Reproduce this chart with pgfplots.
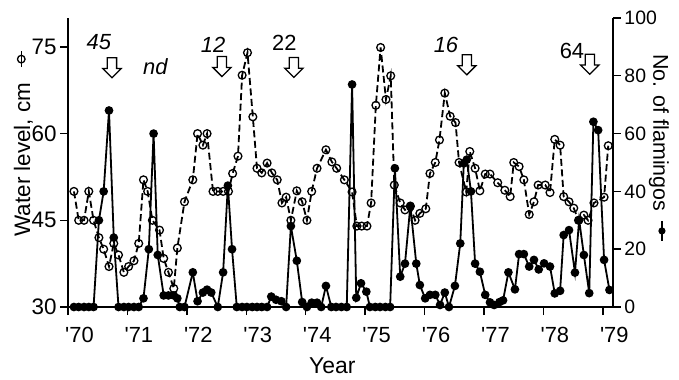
\documentclass[border=0pt]{standalone}
\usepackage{pgfplots}
\pgfplotsset{compat=1.18}
\usepackage{pgfplotstable}
\usepackage{fontspec}
\setmainfont{Liberation Sans}
\usetikzlibrary{shapes.arrows}

\pgfplotstableread{
year water
1970.10 50
1970.18 45
1970.27 45
1970.35 50
1970.43 45
1970.52 42
1970.60 40
1970.69 37
1970.77 41
1970.85 39
1970.94 36
1971.02 37
1971.11 38
1971.19 41
1971.27 52
1971.34 50
1971.42 45
1971.54 43.3
1971.61 38.4
1971.69 36
1971.78 33.2
1971.84 40.2
1971.96 48.2
1972.10 52
1972.18 60
1972.27 58
1972.34 60
1972.44 50
1972.52 50
1972.61 50
1972.70 50
1972.77 53.1
1972.86 56.1
1972.93 70.1
1973.02 74
1973.11 62.9
1973.18 54
1973.26 53.2
1973.35 54.9
1973.43 53.2
1973.52 52
1973.60 48
1973.67 49
1973.75 45
1973.85 50.1
1973.94 48.2
1974.02 45
1974.10 50
1974.19 54
1974.34 57.2
1974.44 55.1
1974.52 54
1974.65 52
1974.78 49.9
1974.86 44
1974.94 44
1975.03 44
1975.10 48
1975.18 64.9
1975.26 74.9
1975.35 65.9
1975.43 70
1975.49 51.1
1975.59 48
1975.67 46.8
1975.76 47.4
1975.84 45
1975.92 46.2
1976.02 47
1976.09 53.1
1976.18 55
1976.25 58.9
1976.34 67
1976.43 63
1976.52 61.9
1976.58 55
1976.70 49.9
1976.76 56.9
1976.85 54
1976.93 50.1
1977.02 53
1977.10 53
1977.23 51.5
1977.35 50.2
1977.44 49.1
1977.50 55
1977.59 54.3
1977.67 52
1977.76 46
1977.84 48.2
1977.91 51.1
1978.03 51.1
1978.11 49.8
1978.19 59
1978.28 58
1978.34 49.1
1978.43 48.2
1978.51 47.1
1978.59 45
1978.68 45.9
1978.75 45
1978.85 48
1979.02 49
1979.09 57.9
}\water

\pgfplotstableread{
year birds
1970.10 0
1970.18 0
1970.27 0
1970.35 0
1970.43 0
1970.52 30
1970.60 40
1970.69 68
1970.77 24
1970.85 0
1970.94 0
1971.02 0
1971.11 0
1971.19 0
1971.27 3
1971.36 20
1971.44 60
1971.51 18
1971.61 4
1971.69 4
1971.78 4
1971.84 3
1971.88 0
1971.96 0
1972.10 12
1972.18 2
1972.27 5
1972.34 6
1972.41 5
1972.52 0
1972.61 12
1972.69 42
1972.76 20
1972.84 0
1972.93 0
1973.01 0
1973.10 0
1973.18 0
1973.26 0
1973.35 0
1973.42 3.6
1973.50 2.5
1973.59 2
1973.67 0
1973.75 28
1973.85 16
1973.94 1.7
1974.02 0
1974.10 1.5
1974.19 1.5
1974.26 0
1974.34 7.3
1974.43 0
1974.51 0
1974.60 0
1974.69 0
1974.78 77
1974.85 3.2
1974.93 8.2
1975.02 5.3
1975.08 0
1975.17 0
1975.25 0
1975.34 0
1975.42 0
1975.50 48
1975.59 10.5
1975.67 15
1975.76 35
1975.86 15
1975.92 7.6
1976.01 3
1976.09 4.2
1976.18 4.2
1976.26 0.7
1976.34 5
1976.41 0
1976.51 7.3
1976.60 22
1976.66 49.7
1976.71 51
1976.78 40
1976.85 15
1976.93 12.2
1977.02 4.2
1977.10 1.6
1977.17 0.7
1977.26 1.7
1977.32 2.3
1977.41 12
1977.52 6.1
1977.59 18.3
1977.67 18.3
1977.76 14
1977.84 16.3
1977.92 13
1978.01 15.1
1978.11 14
1978.19 4.7
1978.28 5.6
1978.34 24.9
1978.43 26.6
1978.53 11.9
1978.60 30.1
1978.68 18
1978.77 4.8
1978.84 64.1
1978.92 61.2
1979.02 16.3
1979.11 5.9
}\birds

\pgfplotsset{
  common/.style={
    scale only axis, width=545bp, height=289bp,
    xmin=1970, xmax=1979.17,
    tick align=outside,
    major tick length=8bp, minor tick length=5bp,
    every tick/.style={black, line width=1.4bp},
    axis line style={line width=1.7bp},
    clip=false,
    /pgf/number format/assume math mode=true,
  }
}

\begin{document}
\begin{tikzpicture}
\useasboundingbox (-68bp,-73bp) rectangle (611bp,307bp);
\begin{axis}[common,
  ymin=30, ymax=80,
  axis x line*=bottom, axis y line*=left,
  xtick={1970,...,1979},
  xticklabels={{\textquotesingle70},{\textquotesingle71},{\textquotesingle72},{\textquotesingle73},{\textquotesingle74},{\textquotesingle75},{\textquotesingle76},{\textquotesingle77},{\textquotesingle78},{\textquotesingle79}},
  minor x tick num=3,
  ytick={30,45,60,75},
  xticklabel style={font=\fontsize{22}{26}\selectfont, anchor=north west, inner sep=0pt, xshift=-3bp, yshift=-12bp},
  yticklabel style={font=\fontsize{22.5}{26}\selectfont},
  xlabel={Year},
  xlabel style={font=\fontsize{23}{27}\selectfont, at={(axis description cs:0.485,-0.1765)}, anchor=north, inner sep=0pt},
  ylabel={Water level, cm\hspace{15bp}\tikz[baseline=-0.75ex]{\draw[line width=1.4bp] (0,0)--(16bp,0); \draw[line width=1.3bp] (8bp,0) circle (3.8bp);}},
  ylabel style={font=\fontsize{22.5}{26}\selectfont, at={(axis description cs:-0.0817,0.566)}, anchor=center},
]
\addplot[black, line width=1.8bp, dash pattern=on 7bp off 3.5bp, mark=o, mark size=3.9bp, mark options={solid, line width=1.3bp}] table[x=year, y=water] {\water};
\end{axis}
\begin{axis}[common,
  ymin=0, ymax=100,
  axis x line=none, axis y line*=right,
  ytick={0,20,...,100},
  yticklabel style={font=\fontsize{19.5}{23}\selectfont},
  ylabel={No. of flamingos\hspace{9bp}\tikz[baseline=-0.75ex]{\draw[line width=1.4bp] (0,0)--(20bp,0); \fill (10bp,0) circle (3.6bp);}},
  ylabel style={font=\fontsize{21.5}{25}\selectfont, at={(axis description cs:1.0844,0.55)}, anchor=center, rotate=180},
]
\addplot[black, line width=1.8bp, mark=*, mark size=3.4bp] table[x=year, y=birds] {\birds};
\tikzset{darr/.style={single arrow, draw=black, fill=white, line width=1.3bp, shape border rotate=270, minimum height=20bp, inner sep=4bp, single arrow head extend=4.5bp}}
\node[darr] at (axis cs:1970.74,83.6) {};
\node[darr] at (axis cs:1972.59,84) {};
\node[darr] at (axis cs:1973.80,83.7) {};
\node[darr] at (axis cs:1976.71,84.6) {};
\node[darr] at (axis cs:1978.78,84.8) {};
\node[font=\fontsize{22}{26}\selectfont\itshape] at (axis cs:1970.52,91.5) {45};
\node[font=\fontsize{22}{26}\selectfont\itshape] at (axis cs:1971.47,83) {nd};
\node[font=\fontsize{22}{26}\selectfont\itshape] at (axis cs:1972.44,90.8) {12};
\node[font=\fontsize{22}{26}\selectfont] at (axis cs:1973.64,91.5) {22};
\node[font=\fontsize{22}{26}\selectfont\itshape] at (axis cs:1976.36,90.5) {16};
\node[font=\fontsize{22}{26}\selectfont] at (axis cs:1978.48,88.6) {64};
\end{axis}
\end{tikzpicture}
\end{document}
